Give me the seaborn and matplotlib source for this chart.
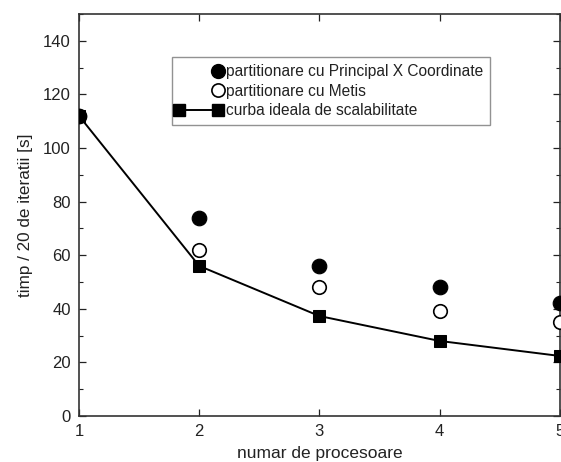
import matplotlib
matplotlib.use("Agg")
import matplotlib.pyplot as plt
from matplotlib.lines import Line2D
from matplotlib.legend_handler import HandlerLine2D
from matplotlib.ticker import MultipleLocator
import seaborn as sns
import pandas as pd

procesoare = [1, 2, 3, 4, 5]
principal_x = [112, 74, 56, 48, 42]
metis = [112, 62, 48, 39, 35]
ideal = [112, 56, 37.3, 28, 22.4]

label_px = "partitionare cu Principal X Coordinate"
label_metis = "partitionare cu Metis"
label_ideal = "curba ideala de scalabilitate"

sns.set_style("ticks")
plt.rcParams["font.family"] = ["Liberation Sans", "DejaVu Sans"]

fig = plt.figure(figsize=(5.61, 4.62), dpi=100)
ax = fig.add_axes([0.1408, 0.0996, 0.857, 0.8701])

df = pd.DataFrame({"n": procesoare, "px": principal_x, "metis": metis, "ideal": ideal})

sns.lineplot(data=df, x="n", y="ideal", ax=ax, color="black", linewidth=1.4,
             marker="s", markersize=8.5, markeredgecolor="black", zorder=3)
sns.scatterplot(data=df, x="n", y="metis", ax=ax, marker="o", s=95,
                facecolor="white", edgecolor="black", linewidth=1.2, zorder=4)
sns.scatterplot(data=df, x="n", y="px", ax=ax, marker="o", s=110,
                color="black", edgecolor="black", zorder=5)

ax.set_xlim(1, 5)
ax.set_ylim(0, 150)
ax.set_xticks(procesoare)
ax.set_yticks(range(0, 141, 20))
ax.yaxis.set_minor_locator(MultipleLocator(10))
ax.tick_params(axis="both", which="both", direction="in", top=True, right=True,
               labelsize=12, colors="#222222", pad=6)
ax.tick_params(axis="both", which="major", length=5, width=0.9)
ax.tick_params(axis="both", which="minor", length=3, width=0.8)
for s in ax.spines.values():
    s.set_linewidth(1.2)
    s.set_color("#333333")
    s.set_visible(True)

ax.set_xlabel("numar de procesoare", fontsize=12.5, color="#222222", labelpad=5)
ax.set_ylabel("timp / 20 de iteratii [s]", fontsize=12.3, color="#222222", labelpad=7)


class RightMarker(HandlerLine2D):
    def create_artists(self, legend, orig_handle, xdescent, ydescent, width,
                       height, fontsize, trans):
        artists = super().create_artists(legend, orig_handle, xdescent, ydescent,
                                         width, height, fontsize, trans)
        for a in artists:
            n = len(a.get_xdata())
            a.set_markevery([n - 1])
        return artists


h_px = Line2D([], [], linestyle="none", marker="o", markersize=10,
              markerfacecolor="black", markeredgecolor="black")
h_metis = Line2D([], [], linestyle="none", marker="o", markersize=9.5,
                 markerfacecolor="white", markeredgecolor="black", markeredgewidth=1.2)
h_ideal = Line2D([], [], color="black", linewidth=1.4, marker="s", markersize=8.5)

leg = ax.legend([h_px, h_metis, h_ideal], [label_px, label_metis, label_ideal],
                loc="upper left", bbox_to_anchor=(0.193, 0.893), borderaxespad=0,
                frameon=True, fancybox=False, fontsize=11.2, handlelength=2.5,
                handletextpad=0.55, labelspacing=0.3, borderpad=0.45,
                handler_map={h_px: RightMarker(numpoints=2, marker_pad=0),
                             h_metis: RightMarker(numpoints=2, marker_pad=0),
                             h_ideal: HandlerLine2D(numpoints=2, marker_pad=0)})
leg.get_frame().set_edgecolor("#777777")
leg.get_frame().set_linewidth(1.0)
for t in leg.get_texts():
    t.set_color("#222222")

fig.savefig("out.png", dpi=100)
